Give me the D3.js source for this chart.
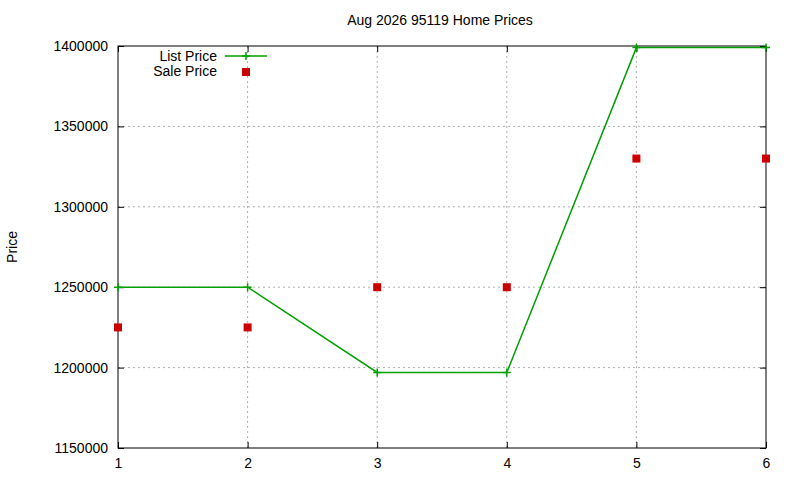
<!doctype html>
<html>
<head>
<meta charset="utf-8">
<script src="https://cdn.jsdelivr.net/npm/d3@7"></script>
<style>
  body { margin: 0; background: #fff; }
  text { font-family: "Liberation Sans", Arial, sans-serif; }
</style>
</head>
<body>
<svg width="800" height="480"></svg>
<script>
var xs = [1, 2, 3, 4, 5, 6];
var listPrice = [1250000, 1250000, 1197000, 1197000, 1399000, 1399000];
var salePrice = [1225000, 1225000, 1250000, 1250000, 1330000, 1330000];
var yTicks = [1150000, 1200000, 1250000, 1300000, 1350000, 1400000];

var svg = d3.select("svg");
var pLeft = 118, pRight = 766, pTop = 46, pBottom = 448;

var x = d3.scaleLinear().domain([1, 6]).range([pLeft, pRight]);
var y = d3.scaleLinear().domain([1150000, 1400000]).range([pBottom, pTop]);

// grid
var grid = svg.append("g").attr("stroke", "#999").attr("stroke-dasharray", "2,3").attr("stroke-width", 0.8);
xs.slice(1, -1).forEach(function(v) {
  grid.append("line").attr("x1", x(v)).attr("x2", x(v)).attr("y1", pTop).attr("y2", pBottom);
});
yTicks.slice(1, -1).forEach(function(v) {
  grid.append("line").attr("x1", pLeft).attr("x2", pRight).attr("y1", y(v)).attr("y2", y(v));
});

// axes with inward ticks (mirrored)
svg.append("g").attr("transform", "translate(0," + pBottom + ")")
  .call(d3.axisBottom(x).tickValues(xs).tickFormat(d3.format("d")).tickSizeInner(-6).tickSizeOuter(0).tickPadding(10));
svg.append("g").attr("transform", "translate(0," + pTop + ")")
  .call(d3.axisTop(x).tickValues(xs).tickFormat("").tickSizeInner(-6).tickSizeOuter(0));
svg.append("g").attr("transform", "translate(" + pLeft + ",0)")
  .call(d3.axisLeft(y).tickValues(yTicks).tickFormat(d3.format("d")).tickSizeInner(-6).tickSizeOuter(0).tickPadding(10));
svg.append("g").attr("transform", "translate(" + pRight + ",0)")
  .call(d3.axisRight(y).tickValues(yTicks).tickFormat("").tickSizeInner(-6).tickSizeOuter(0));
svg.selectAll(".tick text").attr("font-size", 14).attr("font-family", "Liberation Sans, Arial, sans-serif").attr("fill", "#000");
svg.selectAll(".domain").remove();
svg.append("rect").attr("x", pLeft).attr("y", pTop).attr("width", pRight - pLeft).attr("height", pBottom - pTop)
  .attr("fill", "none").attr("stroke", "#000");

// list price line
var green = "#00a000";
svg.append("path").datum(xs)
  .attr("d", d3.line().x(function(d) { return x(d); }).y(function(d, i) { return y(listPrice[i]); }))
  .attr("fill", "none").attr("stroke", green).attr("stroke-width", 1.5);
function plus(g, cx, cy) {
  g.append("path").attr("d", "M" + (cx - 4) + "," + cy + "h8M" + cx + "," + (cy - 4) + "v8")
    .attr("stroke", green).attr("stroke-width", 1.5);
}
xs.forEach(function(v, i) { plus(svg, x(v), y(listPrice[i])); });

// sale price points
var red = "#cc0000";
svg.selectAll(".sale").data(xs).enter().append("rect")
  .attr("x", function(d) { return x(d) - 4; })
  .attr("y", function(d, i) { return y(salePrice[i]) - 4; })
  .attr("width", 8).attr("height", 8).attr("fill", red);

// legend
svg.append("text").attr("x", 217).attr("y", 61).attr("text-anchor", "end").attr("font-size", 14).text("List Price");
svg.append("line").attr("x1", 225).attr("x2", 267).attr("y1", 56).attr("y2", 56).attr("stroke", green).attr("stroke-width", 1.5);
plus(svg, 246, 56);
svg.append("text").attr("x", 217).attr("y", 76).attr("text-anchor", "end").attr("font-size", 14).text("Sale Price");
svg.append("rect").attr("x", 242).attr("y", 68).attr("width", 8).attr("height", 8).attr("fill", red);

// title and labels
svg.append("text").attr("x", 440).attr("y", 25).attr("text-anchor", "middle").attr("font-size", 14).text("Aug 2026 95119 Home Prices");
svg.append("text").attr("transform", "translate(17,247) rotate(-90)").attr("text-anchor", "middle").attr("font-size", 14).text("Price");
</script>
</body>
</html>
